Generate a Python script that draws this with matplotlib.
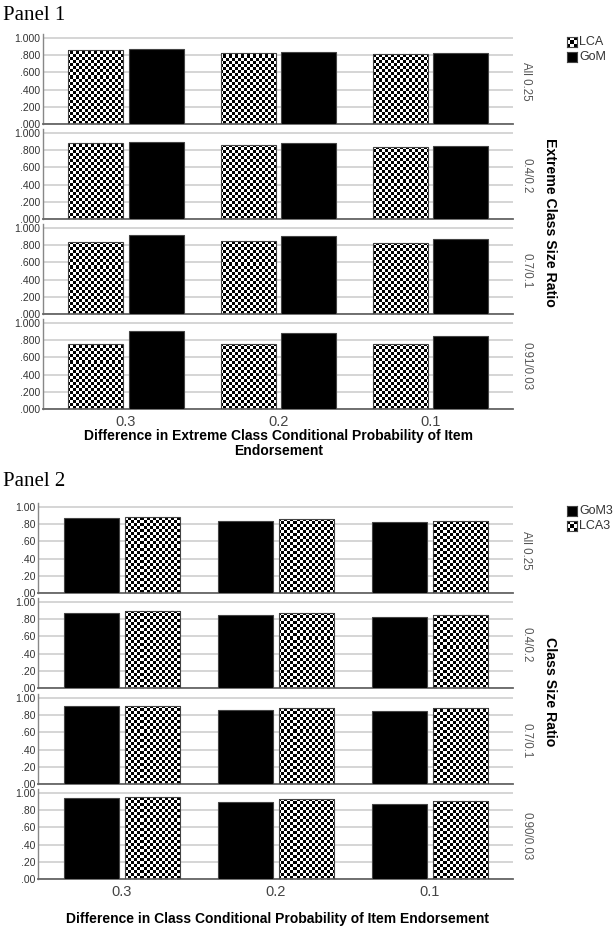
import numpy as np
import matplotlib
matplotlib.use('Agg')
import matplotlib.pyplot as plt

plt.rcParams['font.family'] = ['Liberation Sans', 'DejaVu Sans']

# data
diffs = ['0.3', '0.2', '0.1']
p1_rows = ['All 0.25', '0.4/0.2', '0.7/0.1', '0.91/0.03']
p2_rows = ['All 0.25', '0.4/0.2', '0.7/0.1', '0.90/0.03']

p1_lca = [[0.863, 0.831, 0.816],
          [0.882, 0.858, 0.838],
          [0.840, 0.852, 0.820],
          [0.759, 0.751, 0.751]]
p1_gom = [[0.870, 0.835, 0.831],
          [0.894, 0.878, 0.854],
          [0.920, 0.904, 0.876],
          [0.903, 0.883, 0.848]]

p2_gom3 = [[0.867, 0.843, 0.820],
           [0.875, 0.847, 0.826],
           [0.902, 0.863, 0.852],
           [0.937, 0.898, 0.871]]
p2_lca3 = [[0.886, 0.855, 0.835],
           [0.894, 0.875, 0.850],
           [0.910, 0.887, 0.879],
           [0.957, 0.925, 0.906]]

p1_ticks = ['.000', '.200', '.400', '.600', '.800', '1.000']
p2_ticks = ['.00', '.20', '.40', '.60', '.80', '1.00']

W, H = 613, 930
fig = plt.figure(figsize=(W / 100, H / 100), dpi=100)

CELL = 3  # checker square, px
YTOP = 1.05
XL = (-0.545, 2.54)


def fx(x):
    return x / W


def fy(y):
    return 1 - y / H


def checker(ax, bars, w_px, h_px):
    # checkerboard at one array cell per screen pixel, clipped to each bar
    x0, x1 = ax.get_xlim()
    y0, y1 = ax.get_ylim()
    nx, ny = int(w_px / CELL), int(h_px / CELL)
    cells = (np.add.outer(np.arange(ny), np.arange(nx)) % 2).astype(float)
    board = np.kron(cells, np.ones((CELL, CELL)))
    ex1 = x0 + nx * CELL * (x1 - x0) / w_px
    ey1 = y0 + ny * CELL * (y1 - y0) / h_px
    for b in bars:
        im = ax.imshow(board, cmap='gray', vmin=0, vmax=1, origin='lower',
                       extent=(x0, ex1, y0, ey1), aspect='auto',
                       interpolation='nearest', zorder=2)
        im.set_clip_path(b)
    ax.set_xlim(x0, x1)
    ax.set_ylim(y0, y1)


def panel(left, bottoms, first, second, first_check, rows, ticks):
    x = np.arange(len(diffs))
    bw, off = 0.36, 0.198
    for i, yb in enumerate(bottoms):
        h_px = 86 * YTOP
        ax = fig.add_axes([fx(left), fy(yb), fx(513) - fx(left), h_px / H])
        ax.set_xlim(*XL)
        ax.set_ylim(0, YTOP)
        ax.set_yticks([0, .2, .4, .6, .8, 1.0])
        ax.set_yticklabels(ticks, fontsize=7.5, color='#333')
        ax.yaxis.grid(True, color='#d2d2d2', lw=1.3)
        ax.set_axisbelow(True)
        ax.tick_params(length=0, pad=2)
        for s in ['top', 'right']:
            ax.spines[s].set_visible(False)
        ax.spines['left'].set_color('#888')
        ax.spines['bottom'].set_color('#666')
        ax.spines['left'].set_linewidth(1.0)
        ax.spines['bottom'].set_linewidth(1.3)

        if first_check:
            b1 = ax.bar(x - off, first[i], bw, facecolor='none', edgecolor='#444', lw=0.8, zorder=3)
            ax.bar(x + off, second[i], bw, color='black', edgecolor='#444', lw=0.8, zorder=3)
            checker(ax, b1, 513 - left, h_px)
        else:
            ax.bar(x - off, first[i], bw, color='black', edgecolor='#444', lw=0.8, zorder=3)
            b2 = ax.bar(x + off, second[i], bw, facecolor='none', edgecolor='#444', lw=0.8, zorder=3)
            checker(ax, b2, 513 - left, h_px)

        ax.set_xticks(x)
        if i == len(bottoms) - 1:
            ax.set_xticklabels(diffs, fontsize=10.5, color='#444')
            ax.tick_params(axis='x', pad=4)
        else:
            ax.set_xticklabels([])
        fig.text(fx(526), fy(yb - 43), rows[i], rotation=-90, ha='center', va='center',
                 fontsize=8.3, color='#555')


def legend_item(x, y, label, check):
    lax = fig.add_axes([fx(x), fy(y + 10), 10 / W, 10 / H])
    lax.set_xlim(0, 1)
    lax.set_ylim(0, 1)
    if check:
        board = (np.add.outer(np.arange(3), np.arange(3)) % 2).astype(float)
        lax.imshow(board, cmap='gray', vmin=0, vmax=1, extent=(0, 1, 0, 1),
                   aspect='auto', interpolation='nearest')
    else:
        lax.set_facecolor('black')
    lax.set_xticks([])
    lax.set_yticks([])
    for s in lax.spines.values():
        s.set_color('#444')
        s.set_linewidth(0.8)
    fig.text(fx(x + 12), fy(y + 5), label, ha='left', va='center', fontsize=9, color='#333')


# Panel 1
fig.text(fx(3), fy(16), 'Panel 1', family='Liberation Serif', fontsize=15, va='center', ha='left')
panel(43, [124, 219, 314, 409], p1_lca, p1_gom, True, p1_rows, p1_ticks)
fig.text(fx(550), fy(222), 'Extreme Class Size Ratio', rotation=-90, ha='center', va='center',
         fontsize=10.2, fontweight='bold')
fig.text(fx(279), fy(443.5), 'Difference in Extreme Class Conditional Probability of Item\nEndorsement',
         ha='center', va='center', fontsize=10, fontweight='bold', linespacing=1.05)
legend_item(567, 37, 'LCA', True)
legend_item(567, 52, 'GoM', False)

# Panel 2
fig.text(fx(3), fy(481), 'Panel 2', family='Liberation Serif', fontsize=15, va='center', ha='left')
panel(38, [593, 688, 784, 879], p2_gom3, p2_lca3, False, p2_rows, p2_ticks)
fig.text(fx(550), fy(692), 'Class Size Ratio', rotation=-90, ha='center', va='center',
         fontsize=10.2, fontweight='bold')
fig.text(fx(277), fy(919), 'Difference in Class Conditional Probability of Item Endorsement',
         ha='center', va='center', fontsize=10, fontweight='bold')
legend_item(567, 506, 'GoM3', False)
legend_item(567, 521, 'LCA3', True)

fig.savefig('out.png', dpi=100, facecolor='white')
